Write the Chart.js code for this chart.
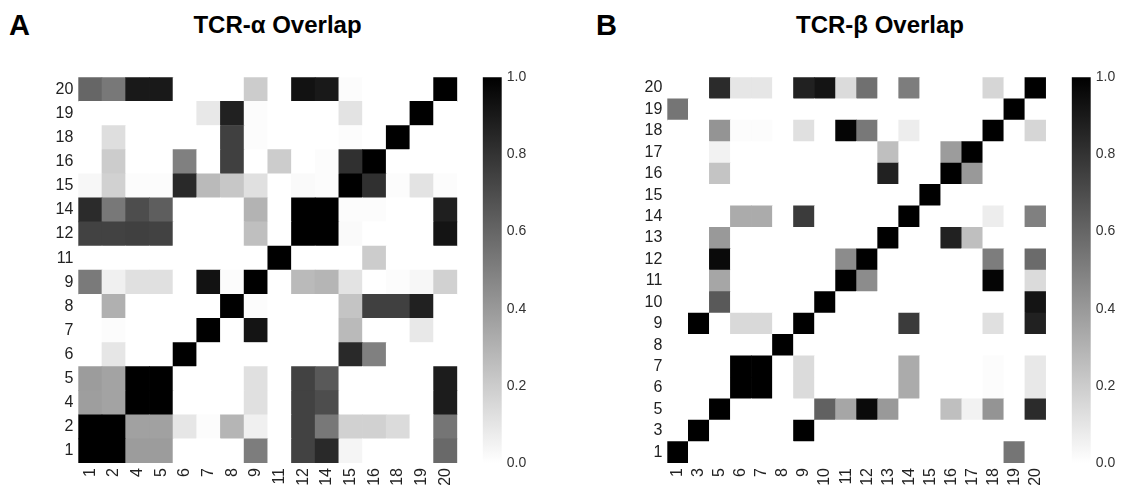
<!DOCTYPE html>
<html><head><meta charset="utf-8">
<script src="https://cdn.jsdelivr.net/npm/chart.js@4/dist/chart.umd.min.js"></script>
<style>
body{margin:0;background:#fff;width:1123px;height:492px;overflow:hidden;position:relative;font-family:"Liberation Sans",Arial,sans-serif}
canvas{position:absolute;top:0}
.t{position:absolute;font-weight:bold;line-height:1;white-space:nowrap;color:#000}
</style></head><body>
<div class="t" style="left:9px;top:10.5px;font-size:29px">A</div>
<div class="t" style="left:277.5px;top:12.7px;font-size:24px;transform:translateX(-50%)">TCR-α Overlap</div>
<div class="t" style="left:596px;top:10.5px;font-size:29px">B</div>
<div class="t" style="left:880px;top:12.7px;font-size:24px;transform:translateX(-50%)">TCR-β Overlap</div>
<canvas id="hA" width="470" height="492" style="left:0"></canvas>
<canvas id="cA" width="90" height="492" style="left:470px"></canvas>
<canvas id="hB" width="480" height="492" style="left:580px"></canvas>
<canvas id="cB" width="63" height="492" style="left:1060px"></canvas>
<script>
// ---- Panel A (TCR-alpha): labels, rows listed bottom -> top, columns in label order
const alphaLabels = ['1','2','4','5','6','7','8','9','11','12','14','15','16','18','19','20'];
const alphaMatrix = [
  [1, 1, 0.39, 0.39, 0, 0, 0, 0.51, 0, 0.74, 0.84, 0.04, 0, 0, 0, 0.59],            // 1
  [1, 1, 0.37, 0.37, 0.10, 0.01, 0.29, 0.06, 0, 0.74, 0.53, 0.18, 0.18, 0.14, 0, 0.54], // 2
  [0.38, 0.36, 1, 1, 0, 0, 0, 0.12, 0, 0.74, 0.70, 0, 0, 0, 0, 0.89],             // 4
  [0.39, 0.36, 1, 1, 0, 0, 0, 0.12, 0, 0.74, 0.65, 0, 0, 0, 0, 0.89],             // 5
  [0, 0.10, 0, 0, 1, 0, 0, 0, 0, 0, 0, 0.84, 0.50, 0, 0, 0],                      // 6
  [0, 0.01, 0, 0, 0, 1, 0, 0.92, 0, 0, 0, 0.27, 0, 0, 0.09, 0],                   // 7
  [0, 0.31, 0, 0, 0, 0, 1, 0.01, 0, 0, 0, 0.23, 0.75, 0.75, 0.87, 0],             // 8
  [0.52, 0.06, 0.12, 0.12, 0, 0.93, 0.01, 1, 0, 0.27, 0.29, 0.11, 0, 0.01, 0.03, 0.18], // 9
  [0, 0, 0, 0, 0, 0, 0, 0, 1, 0, 0, 0, 0.20, 0, 0, 0],                            // 11
  [0.74, 0.74, 0.75, 0.74, 0, 0, 0, 0.25, 0, 1, 1, 0.02, 0, 0, 0, 0.92],          // 12
  [0.83, 0.53, 0.70, 0.63, 0, 0, 0, 0.30, 0, 1, 1, 0.01, 0.01, 0, 0, 0.88],       // 14
  [0.03, 0.18, 0.01, 0.01, 0.84, 0.27, 0.22, 0.12, 0, 0.02, 0.01, 1, 0.81, 0.01, 0.11, 0.01], // 15
  [0, 0.20, 0, 0, 0.50, 0, 0.75, 0, 0.20, 0, 0.01, 0.81, 1, 0, 0, 0],             // 16
  [0, 0.13, 0, 0, 0, 0, 0.75, 0.01, 0, 0, 0, 0.01, 0, 1, 0, 0],                   // 18
  [0, 0, 0, 0, 0, 0.09, 0.87, 0.01, 0, 0, 0, 0.11, 0, 0, 1, 0],                   // 19
  [0.60, 0.53, 0.90, 0.90, 0, 0, 0, 0.20, 0, 0.93, 0.90, 0.01, 0, 0, 0, 1]        // 20
];

// ---- Panel B (TCR-beta)
const betaLabels = ['1','3','5','6','7','8','9','10','11','12','13','14','15','16','17','18','19','20'];
const betaMatrix = [
  [1,0,0,0,0,0,0,0,0,0,0,0,0,0,0,0,0.54,0],                           // 1
  [0,1,0,0,0,0,1,0,0,0,0,0,0,0,0,0,0,0],                              // 3
  [0,0,1,0,0,0,0,0.62,0.35,0.96,0.40,0,0,0.25,0.05,0.42,0,0.83],      // 5
  [0,0,0,1,1,0,0.14,0,0,0,0,0.33,0,0,0,0.01,0,0.09],                  // 6
  [0,0,0,1,1,0,0.14,0,0,0,0,0.33,0,0,0,0.01,0,0.09],                  // 7
  [0,0,0,0,0,1,0,0,0,0,0,0,0,0,0,0,0,0],                              // 8
  [0,1,0,0.15,0.15,0,1,0,0,0,0,0.77,0,0,0,0.12,0,0.87],               // 9
  [0,0,0.65,0,0,0,0,1,0,0,0,0,0,0,0,0,0,0.92],                        // 10
  [0,0,0.35,0,0,0,0,0,1,0.45,0,0,0,0,0,0.98,0,0.14],                  // 11
  [0,0,0.96,0,0,0,0,0,0.45,1,0,0,0,0,0,0.51,0,0.58],                  // 12
  [0,0,0.40,0,0,0,0,0,0,0,1,0,0,0.87,0.25,0,0,0],                     // 13
  [0,0,0,0.33,0.33,0,0.77,0,0,0,0,1,0,0,0,0.07,0,0.50],               // 14
  [0,0,0,0,0,0,0,0,0,0,0,0,1,0,0,0,0,0],                              // 15
  [0,0,0.23,0,0,0,0,0,0,0,0.87,0,0,1,0.40,0,0,0],                     // 16
  [0,0,0.05,0,0,0,0,0,0,0,0.25,0,0,0.39,1,0,0,0],                     // 17
  [0,0,0.42,0.01,0.01,0,0.12,0,0.98,0.53,0,0.07,0,0,0,1,0,0.16],      // 18
  [0.54,0,0,0,0,0,0,0,0,0,0,0,0,0,0,0,1,0],                           // 19
  [0,0,0.83,0.10,0.10,0,0.87,0.92,0.14,0.56,0,0.51,0,0,0,0.16,0,1]    // 20
];

const colorbarTicks = [0, 0.2, 0.4, 0.6, 0.8, 1.0];

const FONT = '"Liberation Sans", Arial, sans-serif';
function grey(v) {
  const g = Math.round(255 * (1 - Math.max(0, Math.min(1, v))));
  return `rgb(${g},${g},${g})`;
}

function heatmap(id, labels, matrix, yWidth, padRight) {
  const n = labels.length;
  const datasets = matrix.map((row, r) => ({
    data: row.map(() => [r, r + 1]),
    backgroundColor: row.map(grey),
    borderWidth: 0,
    barPercentage: 1,
    categoryPercentage: 1,
    grouped: false
  }));
  new Chart(document.getElementById(id), {
    type: 'bar',
    data: { labels: labels, datasets: datasets },
    options: {
      responsive: false, animation: false, events: [], devicePixelRatio: 1,
      layout: { padding: { top: 77.3, right: padRight, left: 0, bottom: 0 } },
      plugins: { legend: { display: false }, tooltip: { enabled: false } },
      scales: {
        x: {
          grid: { display: false, drawTicks: false }, border: { display: false },
          ticks: { minRotation: 90, maxRotation: 90, autoSkip: false, padding: 5, color: '#222', font: { size: 16, family: FONT } },
          afterFit: s => { s.height = 29; }
        },
        y: {
          type: 'linear', min: 0, max: n,
          grid: { display: false, drawTicks: false }, border: { display: false },
          afterBuildTicks: s => { s.ticks = labels.map((l, i) => ({ value: i + 0.5 })); },
          ticks: { autoSkip: false, padding: 5, color: '#222', font: { size: 16, family: FONT },
                   callback: v => labels[Math.floor(v)] },
          afterFit: s => { s.width = yWidth; }
        }
      }
    }
  });
}

function colorbar(id, padLeft, yWidth) {
  new Chart(document.getElementById(id), {
    type: 'bar',
    data: { labels: [''], datasets: [{
      data: [[0, 1]],
      backgroundColor: ctx => {
        const ca = ctx.chart.chartArea;
        if (!ca) return '#888';
        const g = ctx.chart.ctx.createLinearGradient(0, ca.bottom, 0, ca.top);
        g.addColorStop(0, grey(0));
        g.addColorStop(1, grey(1));
        return g;
      },
      borderWidth: 0, barPercentage: 1, categoryPercentage: 1
    }]},
    options: {
      responsive: false, animation: false, events: [], devicePixelRatio: 1,
      layout: { padding: { top: 77.3, bottom: 29, left: padLeft, right: 0 } },
      plugins: { legend: { display: false }, tooltip: { enabled: false } },
      scales: {
        x: { display: false },
        y: {
          position: 'right', min: 0, max: 1,
          grid: { display: false, drawTicks: false }, border: { display: false },
          afterBuildTicks: s => { s.ticks = colorbarTicks.map(v => ({ value: v })); },
          ticks: { padding: 5, color: '#333', font: { size: 14, family: FONT }, callback: v => v.toFixed(1) },
          afterFit: s => { s.width = yWidth; }
        }
      }
    }
  });
}

heatmap('hA', alphaLabels, alphaMatrix, 78.3, 11);
heatmap('hB', betaLabels, betaMatrix, 87.3, 12.9);
colorbar('cA', 12.7, 58.3);
colorbar('cB', 11.7, 32.3);
</script>
</body></html>
